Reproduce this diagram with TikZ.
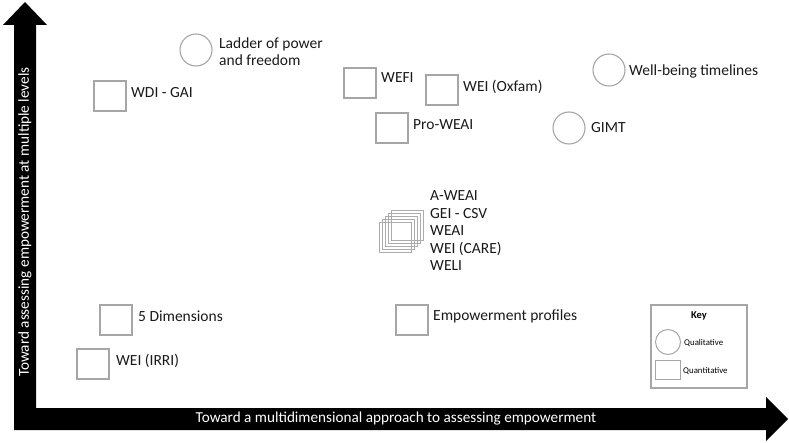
\documentclass[tikz,border=0pt]{standalone}
\usepackage{fontspec}
\setmainfont{Carlito}
\begin{document}
\begin{tikzpicture}[x=1pt,y=-1pt,
  sq/.style={draw=gray!70,line width=1.1pt,fill=white,minimum width=32pt,minimum height=30pt,inner sep=0pt},
  circ/.style={circle,draw=gray!70,line width=1.1pt,fill=white,minimum size=32pt,inner sep=0pt},
  lab/.style={anchor=west,font=\fontsize{15.5}{17}\selectfont,text=black!90,inner sep=0pt,align=left},
  keytxt/.style={anchor=west,font=\fontsize{8.8}{9}\selectfont,inner sep=0pt},
  axtxt/.style={text=white,font=\fontsize{15.2}{16}\selectfont,inner sep=0pt}]
\useasboundingbox (0,0) rectangle (789,443);
% axes
\fill[black] (14,430) -- (14,25) -- (3,25) -- (25,2) -- (47,25) -- (36,25) -- (36,408)
  -- (766,408) -- (766,397) -- (788,419) -- (766,441) -- (766,430) -- cycle;
\node[axtxt,rotate=90] (ylab) at (25,222) {Toward assessing empowerment at multiple levels};
\node[axtxt] (xlab) at (396,419) {Toward a multidimensional approach to assessing empowerment};
% qualitative
\node[circ] (ladder) at (196,50) {};
\node[lab] (tladder) at (219,52) {Ladder of power\\and freedom};
\node[circ] (wbt) at (609,70) {};
\node[lab] (twbt) at (629,71) {Well-being timelines};
\node[circ] (gimt) at (569,128) {};
\node[lab] (tgimt) at (591,128) {GIMT};
% quantitative
\node[sq] (wdi) at (110,96) {};
\node[lab] (twdi) at (131,93) {WDI - GAI};
\node[sq] (wefi) at (360,83) {};
\node[lab] (twefi) at (381,78) {WEFI};
\node[sq] (oxfam) at (442,90) {};
\node[lab] (toxfam) at (463,87) {WEI (Oxfam)};
\node[sq] (pro) at (392,128) {};
\node[lab] (tpro) at (413,125) {Pro-WEAI};
\node[sq] (fived) at (116,320) {};
\node[lab] (tfived) at (138,316) {5 Dimensions};
\node[sq] (irri) at (93,364) {};
\node[lab] (tirri) at (116,361) {WEI (IRRI)};
\node[sq] (emp) at (412,320) {};
\node[lab] (temp) at (433,316) {Empowerment profiles};
% stacked
\foreach \i in {0,...,4} {
  \node[sq,fill=none,draw=gray!65,line width=0.9pt] (st\i) at (407-3*\i,225+3*\i) {};
}
\node[lab,align=left] (tstack) at (430,231) {A-WEAI\\[0.5pt]GEI - CSV\\[0.5pt]WEAI\\[0.5pt]WEI (CARE)\\[0.5pt]WELI};
% key
\node[draw=gray!70,line width=1.1pt,minimum width=96pt,minimum height=83pt,inner sep=0pt] (key) at (699,346.5) {};
\node[font=\fontsize{10.5}{11}\selectfont\bfseries,inner sep=0pt] (keyt) at (699,316) {Key};
\node[circle,draw=gray!70,line width=1pt,minimum size=25pt,inner sep=0pt] (kc) at (668,342) {};
\node[keytxt] (kct) at (684,343) {Qualitative};
\node[draw=gray!70,line width=1pt,minimum width=25pt,minimum height=19pt,inner sep=0pt] (ks) at (667.5,369.5) {};
\node[keytxt] (kst) at (683,371) {Quantitative};
\end{tikzpicture}
\end{document}
